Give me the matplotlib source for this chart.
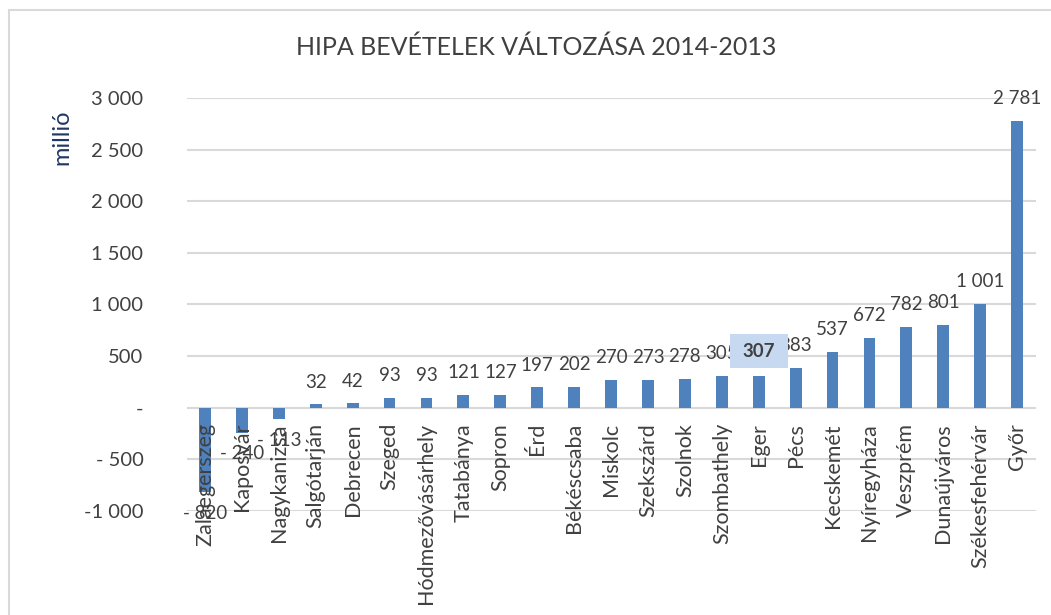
import matplotlib
matplotlib.use('Agg')
import matplotlib.pyplot as plt
from matplotlib.patches import Rectangle
from matplotlib.transforms import ScaledTranslation

plt.rcParams['font.family'] = ['Lato', 'DejaVu Sans']

# varosok es a bevetel valtozasa (millio Ft)
cities = ['Zalaegerszeg', 'Kaposvár', 'Nagykanizsa', 'Salgótarján', 'Debrecen',
          'Szeged', 'Hódmezővásárhely', 'Tatabánya', 'Sopron', 'Érd',
          'Békéscsaba', 'Miskolc', 'Szekszárd', 'Szolnok', 'Szombathely',
          'Eger', 'Pécs', 'Kecskemét', 'Nyíregyháza', 'Veszprém',
          'Dunaújváros', 'Székesfehérvár', 'Győr']
values = [-820, -240, -113, 32, 42, 93, 93, 121, 127, 197,
          202, 270, 273, 278, 305, 307, 383, 537, 672, 782,
          801, 1001, 2781]
yticks = [-1000, -500, 0, 500, 1000, 1500, 2000, 2500, 3000]
highlight = 'Eger'

bar_color = '#4f81bd'
text_color = '#404040'
grid_color = '#d9d9d9'


def fmt(v):
    if v == 0:
        return '-'
    s = '{:,}'.format(abs(v)).replace(',', ' ')
    if v < 0:
        return '- ' + s if abs(v) < 1000 else '-' + s
    return s


fig = plt.figure(figsize=(10.51, 6.15), dpi=100)
ax = fig.add_axes([0.1775, 0.1691, 0.8078, 0.6716])

x = list(range(len(cities)))
ax.bar(x, values, width=0.32, color=bar_color, zorder=3)

ax.set_xlim(-0.5, len(cities) - 0.5)
ax.set_ylim(-1000, 3000)
ax.set_yticks(yticks)
ax.set_yticklabels([fmt(v) for v in yticks], fontsize=14.5, color=text_color)
ax.tick_params(axis='y', length=0, pad=31)
ax.set_xticks([])
ax.grid(axis='y', color=grid_color, linewidth=1.5, zorder=0)
for s in ax.spines.values():
    s.set_visible(False)

# kategoria feliratok a nulla vonal alatt
for i, name in enumerate(cities):
    ax.annotate(name, (i, 0), xytext=(0, -11), textcoords='offset points',
                rotation=90, ha='center', va='top', fontsize=15.5,
                color=text_color, zorder=4)

# ertek feliratok
for i, v in enumerate(values):
    if cities[i] == highlight:
        continue
    if v >= 0:
        ax.annotate(fmt(v), (i, v), xytext=(0, 10), textcoords='offset points',
                    ha='center', va='bottom', fontsize=13.5, color=text_color, zorder=5)
    else:
        ax.annotate(fmt(v), (i, v), xytext=(0, -9), textcoords='offset points',
                    ha='center', va='top', fontsize=13.5, color=text_color, zorder=5)

# kiemelt felirat (Eger) kek dobozban
hi = cities.index(highlight)
box_trans = fig.dpi_scale_trans + ScaledTranslation(hi, values[hi], ax.transData)
ax.add_patch(Rectangle((-0.29, 0.08), 0.58, 0.34, transform=box_trans,
                       facecolor='#c6d9f1', edgecolor='none', zorder=6, clip_on=False))
ax.text(0, 0.25, fmt(values[hi]), transform=box_trans, ha='center', va='center',
        fontsize=13.5, fontweight='bold', color=text_color, zorder=7)

fig.text(0.51, 0.923, 'HIPA BEVÉTELEK VÁLTOZÁSA 2014-2013', ha='center', va='center',
         fontsize=18, color=text_color)
fig.text(0.059, 0.777, 'millió', rotation=90, ha='center', va='center',
         fontsize=17, color='#1f3864')

# kulso keret
fig.patches.append(Rectangle((0.0085, -0.05), 1.2, 1.034, transform=fig.transFigure,
                             fill=False, edgecolor='#d9d9d9', linewidth=1.5))

fig.savefig('out.png', dpi=100, facecolor='white')
